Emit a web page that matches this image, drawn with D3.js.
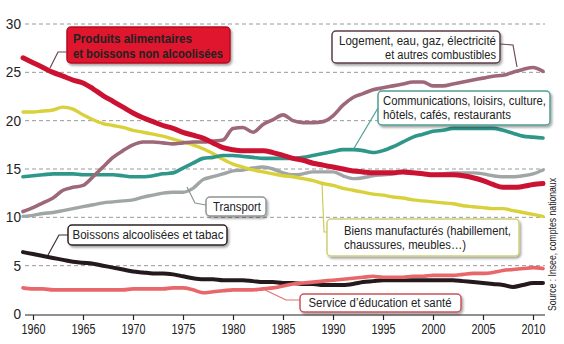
<!DOCTYPE html>
<html>
<head>
  <meta charset="utf-8">
  <title>Structure de la consommation</title>
  <style>
    body { margin: 0; background: #fff; }
    svg text { font-family: "Liberation Sans", Arial, sans-serif; }
    .grid line { stroke: #9a9a9a; stroke-width: 1; stroke-dasharray: 4 3; }
    .axis-x path, .axis-x line { stroke: #222; stroke-width: 1.2; }
    .axis-x text, .axis-y text { font-size: 14px; fill: #222; }
    .serie { fill: none; stroke-linejoin: round; stroke-linecap: round; }
    .lbl { font-size: 12px; fill: #222; }
  </style>
</head>
<body>
  <svg id="chart" width="564" height="344"></svg>

  <script src="https://d3js.org/d3.v7.min.js"></script>
  <script>
    // années 1959 -> 2011, parts en % de la consommation
    const years = d3.range(1959, 2012);

    const alimentaire = [26.5, 26.0, 25.5, 25.0, 24.6, 24.2, 23.9, 23.3, 22.6, 22.0,
      21.4, 20.8, 20.3, 19.9, 19.5, 19.2, 18.8, 18.5, 18.2, 17.7,
      17.2, 17.0, 16.9, 16.9, 16.9, 16.7, 16.4, 16.1, 15.9, 15.6,
      15.4, 15.2, 15.0, 14.8, 14.7, 14.6, 14.6, 14.6, 14.7, 14.6,
      14.5, 14.4, 14.4, 14.4, 14.3, 14.1, 13.8, 13.4, 13.1, 13.1,
      13.2, 13.4, 13.5];

    const logement = [10.6, 11.0, 11.5, 12.0, 12.8, 13.1, 13.3, 14.2, 15.2, 16.2,
      16.9, 17.5, 17.8, 17.8, 17.7, 17.6, 17.7, 17.8, 17.8, 17.9,
      18.0, 19.2, 19.3, 18.8, 19.6, 20.1, 20.6, 20.0, 19.8, 19.8,
      19.9, 20.5, 21.6, 22.4, 22.8, 23.2, 23.4, 23.6, 23.8, 24.0,
      24.0, 23.6, 23.6, 23.8, 24.0, 24.2, 24.4, 24.6, 24.7, 25.0,
      25.3, 25.5, 25.1];

    const loisirs = [14.2, 14.3, 14.4, 14.5, 14.5, 14.5, 14.4, 14.4, 14.4, 14.4,
      14.3, 14.2, 14.2, 14.3, 14.5, 14.6, 15.1, 15.6, 16.1, 16.2,
      16.4, 16.4, 16.3, 16.2, 16.1, 16.1, 16.1, 16.1, 16.2, 16.4,
      16.6, 16.8, 17.0, 17.0, 16.9, 16.7, 16.9, 17.3, 17.8, 18.3,
      18.6, 18.9, 19.0, 19.2, 19.2, 19.2, 19.2, 19.2, 19.0, 18.7,
      18.4, 18.3, 18.2];

    const transport = [10.1, 10.2, 10.4, 10.5, 10.7, 10.9, 11.1, 11.3, 11.5, 11.6,
      11.7, 11.8, 12.1, 12.3, 12.5, 12.6, 12.6, 13.0, 13.9, 14.2,
      14.5, 14.8, 14.9, 15.1, 15.2, 15.0, 14.6, 14.4, 14.5, 14.7,
      14.7, 14.7, 14.3, 14.0, 14.1, 14.3, 14.4, 14.5, 14.8, 14.7,
      14.5, 14.4, 14.5, 14.6, 14.6, 14.6, 14.5, 14.3, 14.2, 14.2,
      14.3, 14.5, 14.9];

    const manufactures = [20.9, 20.9, 21.0, 21.1, 21.4, 21.2, 20.6, 20.1, 19.7, 19.5,
      19.3, 19.0, 18.8, 18.6, 18.4, 18.1, 17.8, 17.5, 17.1, 16.6,
      16.0, 15.5, 15.2, 14.9, 14.7, 14.5, 14.3, 14.2, 14.0, 13.8,
      13.5, 13.3, 13.0, 12.8, 12.6, 12.4, 12.3, 12.1, 12.0, 11.8,
      11.7, 11.6, 11.5, 11.4, 11.2, 11.1, 11.0, 10.9, 10.9, 10.7,
      10.5, 10.3, 10.1];

    const alcoolTabac = [6.4, 6.2, 6.0, 5.8, 5.6, 5.4, 5.3, 5.2, 5.0, 4.8,
      4.6, 4.4, 4.3, 4.2, 4.2, 4.1, 3.9, 3.7, 3.6, 3.6,
      3.5, 3.5, 3.5, 3.4, 3.3, 3.3, 3.2, 3.2, 3.1, 3.1,
      3.0, 3.0, 3.0, 3.1, 3.3, 3.4, 3.5, 3.5, 3.5, 3.5,
      3.5, 3.5, 3.5, 3.5, 3.4, 3.3, 3.2, 3.1, 3.0, 2.8,
      3.0, 3.2, 3.2];

    const educSante = [2.7, 2.6, 2.6, 2.5, 2.5, 2.5, 2.5, 2.5, 2.5, 2.5,
      2.5, 2.6, 2.6, 2.6, 2.6, 2.7, 2.7, 2.5, 2.2, 2.3,
      2.4, 2.5, 2.5, 2.5, 2.6, 2.7, 2.9, 3.1, 3.2, 3.3,
      3.4, 3.5, 3.6, 3.7, 3.8, 3.9, 3.8, 3.8, 3.8, 3.9,
      3.9, 4.0, 4.0, 4.0, 4.1, 4.2, 4.2, 4.3, 4.5, 4.6,
      4.7, 4.8, 4.7];

    const yTicks = [0, 5, 10, 15, 20, 25, 30];
    const xTicks = [1960, 1965, 1970, 1975, 1980, 1985, 1990, 1995, 2000, 2005, 2010];

    const svg = d3.select("#chart");

    const x = d3.scaleLinear().domain([1959, 2011]).range([23, 543]);
    const y = d3.scaleLinear().domain([0, 30]).range([314, 24]);

    // ombre portée des étiquettes
    const defs = svg.append("defs");
    const shadow = defs.append("filter").attr("id", "ombre")
      .attr("x", "-10%").attr("y", "-20%").attr("width", "130%").attr("height", "160%");
    shadow.append("feDropShadow").attr("dx", 1.5).attr("dy", 2).attr("stdDeviation", 1.3)
      .attr("flood-color", "#000").attr("flood-opacity", 0.35);

    // quadrillage pointillé
    svg.append("g").attr("class", "grid")
      .selectAll("line")
      .data(yTicks.filter(d => d > 0))
      .join("line")
      .attr("x1", 25).attr("x2", 545)
      .attr("y1", d => y(d)).attr("y2", d => y(d));

    // axe vertical : seulement les libellés (police resserrée)
    svg.append("g").attr("class", "axis-y")
      .selectAll("text")
      .data(yTicks)
      .join("text")
      .attr("x", 21)
      .attr("y", d => y(d))
      .attr("dy", "0.35em")
      .attr("text-anchor", "end")
      .attr("textLength", d => String(d).length * 7.6)
      .attr("lengthAdjust", "spacingAndGlyphs")
      .text(d => d);

    const xAxis = d3.axisBottom(x)
      .tickValues(xTicks)
      .tickFormat(d3.format("d"))
      .tickSize(5)
      .tickSizeOuter(0)
      .tickPadding(4);

    const gx = svg.append("g").attr("class", "axis-x")
      .attr("transform", "translate(0,315)")
      .call(xAxis);
    gx.select(".domain").attr("d", `M${x(1959) + 2},0H${x(2011) + 2}`);
    gx.selectAll(".tick text")
      .attr("textLength", 24)
      .attr("lengthAdjust", "spacingAndGlyphs");

    // courbes
    const line = d3.line()
      .x((d, i) => x(years[i]))
      .y(d => y(d))
      .curve(d3.curveMonotoneX);

    const series = [
      { values: transport, color: "#a0a5a5", width: 3.4 },
      { values: manufactures, color: "#d8d13c", width: 3.4 },
      { values: loisirs, color: "#2f978a", width: 3.6 },
      { values: logement, color: "#9d6877", width: 3.6 },
      { values: alcoolTabac, color: "#241a1c", width: 4 },
      { values: educSante, color: "#e8676a", width: 3.6 },
      { values: alimentaire, color: "#cc1232", width: 5 }
    ];

    svg.append("g")
      .selectAll("path")
      .data(series)
      .join("path")
      .attr("class", "serie")
      .attr("d", d => line(d.values))
      .attr("stroke", d => d.color)
      .attr("stroke-width", d => d.width);

    // étiquettes avec trait de rappel ; tl = largeur de chaque ligne de texte
    const labels = [
      { lines: ["Produits alimentaires", "et boissons non alcoolisées"], tl: [119, 150], box: [67, 27, 163, 36],
        fill: "#e0182f", border: "#b50f24", color: "#fff", bold: true, anchor: "start", tx: 73, ty: [43, 58],
        leader: [[67, 52], [58, 52], [50, 68]], leaderColor: "#6b4a50" },
      { lines: ["Logement, eau, gaz, électricité", "et autres combustibles"], tl: [157, 111], box: [332, 31, 168, 32],
        fill: "#fff", border: "#5c3f4a", color: "#222", anchor: "end", tx: 496, ty: [45, 59],
        leader: [[500, 44], [513, 45], [517, 67]], leaderColor: "#6e4c58" },
      { lines: ["Communications, loisirs, culture,", "hôtels, cafés, restaurants"], tl: [163, 128], box: [378, 91, 172, 34],
        fill: "#fff", border: "#4f9e93", color: "#222", anchor: "start", tx: 383, ty: [105, 119],
        leader: [[378, 108], [353, 150]], leaderColor: "#4f9e93" },
      { lines: ["Transport"], tl: [48], box: [206, 197, 60, 19],
        fill: "#fff", border: "#8f9494", color: "#222", anchor: "middle", tx: 237, ty: [211],
        leader: [[206, 205], [195, 203], [187, 187]], leaderColor: "#8f9494" },
      { lines: ["Biens manufacturés (habillement,", "chaussures, meubles…)"], tl: [167, 122], box: [327, 219, 192, 37],
        fill: "#fff", border: "#cfd07a", color: "#222", anchor: "start", tx: 344, ty: [235, 249],
        leader: [[327, 232], [324, 232], [322, 183]], leaderColor: "#d0cc55" },
      { lines: ["Boissons alcoolisées et tabac"], tl: [151], box: [68, 225, 159, 20],
        fill: "#fff", border: "#2c2224", color: "#222", anchor: "middle", tx: 148, ty: [239],
        leader: [[68, 235], [59, 235], [48, 255]], leaderColor: "#3a2e30" },
      { lines: ["Service d’éducation et santé"], tl: [143], box: [300, 294, 161, 18],
        fill: "#fff", border: "#c9545a", color: "#222", anchor: "middle", tx: 380, ty: [307],
        leader: [[300, 300], [286, 300], [263, 289]], leaderColor: "#e07075" }
    ];

    const lab = svg.append("g");
    labels.forEach(l => {
      lab.append("path")
        .attr("d", d3.line()(l.leader))
        .attr("fill", "none")
        .attr("stroke", l.leaderColor)
        .attr("stroke-width", 1.2);
      lab.append("rect")
        .attr("x", l.box[0]).attr("y", l.box[1])
        .attr("width", l.box[2]).attr("height", l.box[3])
        .attr("rx", 4)
        .attr("fill", l.fill)
        .attr("stroke", l.border)
        .attr("stroke-width", 1.5)
        .attr("filter", "url(#ombre)");
      l.lines.forEach((t, i) => {
        lab.append("text")
          .attr("class", "lbl")
          .attr("x", l.tx).attr("y", l.ty[i])
          .attr("text-anchor", l.anchor)
          .attr("fill", l.color)
          .attr("font-weight", l.bold ? "bold" : null)
          .attr("textLength", l.tl[i])
          .attr("lengthAdjust", "spacingAndGlyphs")
          .text(t);
      });
    });

    // source, verticale
    svg.append("text")
      .attr("transform", "translate(556,311) rotate(-90)")
      .attr("font-size", 11)
      .attr("fill", "#222")
      .attr("textLength", 133)
      .attr("lengthAdjust", "spacingAndGlyphs")
      .text("Source : Insee, comptes nationaux");
  </script>
</body>
</html>
